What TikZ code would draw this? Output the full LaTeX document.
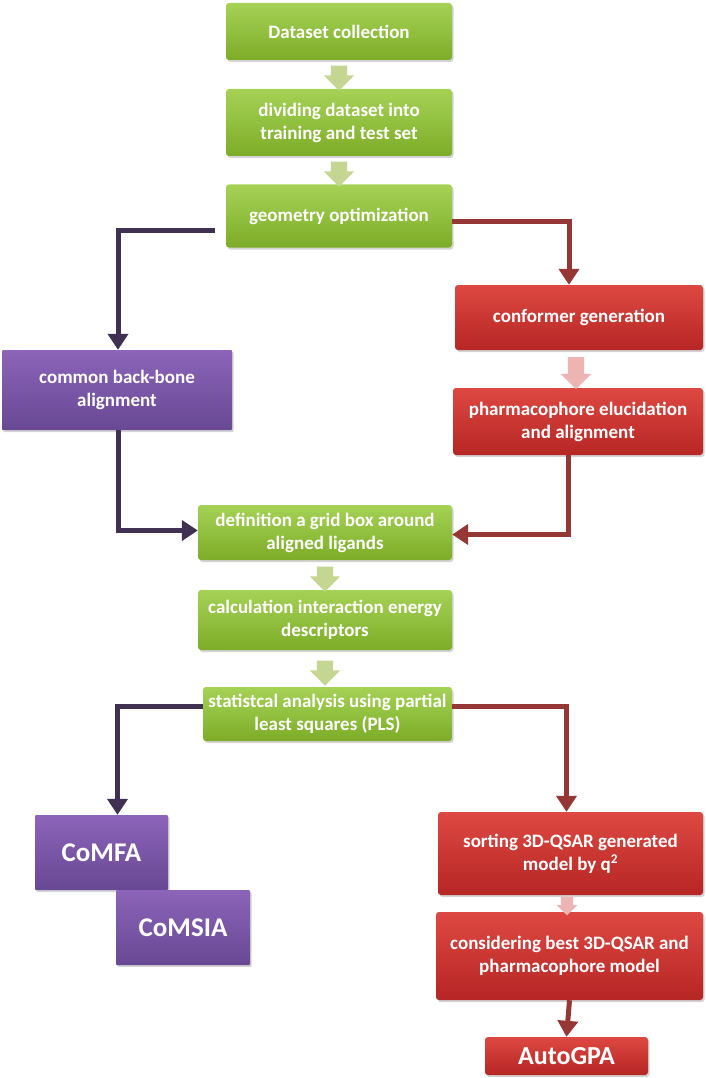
\documentclass[tikz,border=0pt]{standalone}
\usepackage{fontspec}
\setmainfont{Carlito}
\usetikzlibrary{arrows.meta,shapes.arrows,shadows}
\definecolor{grntop}{RGB}{165,210,85}
\definecolor{grnbot}{RGB}{125,172,40}
\definecolor{redtop}{RGB}{222,72,66}
\definecolor{redbot}{RGB}{182,38,36}
\definecolor{purtop}{RGB}{140,100,185}
\definecolor{purbot}{RGB}{104,72,148}
\definecolor{purline}{RGB}{64,49,82}
\definecolor{redline}{RGB}{149,55,53}
\definecolor{palegrn}{RGB}{196,214,146}
\definecolor{palered}{RGB}{236,180,178}
\begin{document}
\begin{tikzpicture}
[x=1pt, y=-1pt,
box/.style={rounded corners=3pt, text=white, align=center, inner sep=2pt,
  font=\bfseries\fontsize{19}{23}\selectfont,
  drop shadow={opacity=.35, shadow xshift=1.5pt, shadow yshift=-2pt}},
grnbox/.style={box, top color=grntop, bottom color=grnbot},
redbox/.style={box, top color=redtop, bottom color=redbot},
purbox/.style={box, top color=purtop, bottom color=purbot, rounded corners=1pt},
big/.style={font=\bfseries\fontsize{27}{31}\selectfont},
blockarrow/.style={single arrow, shape border rotate=270, draw=none, inner sep=8pt,
  minimum width=30pt, minimum height=25pt, single arrow head extend=7pt},
purarrow/.style={draw=purline, line width=5pt, -{Triangle[width=20pt,length=16pt]}},
redarrow/.style={draw=redline, line width=5pt, -{Triangle[width=20pt,length=16pt]}}]
\useasboundingbox (0,0) rectangle (705,1078);
% main column
\node[grnbox, minimum width=226pt, minimum height=57pt] (data) at (339,31.5) {Dataset collection};
\node[grnbox, minimum width=226pt, minimum height=67pt] (divide) at (339,122.5) {dividing dataset into\\training and test set};
\node[grnbox, minimum width=226pt, minimum height=63pt] (geom) at (339,216) {geometry optimization};
\node[redbox, minimum width=248pt, minimum height=65pt] (conf) at (579,317.5) {conformer generation};
\node[redbox, minimum width=250pt, minimum height=67pt] (pharm) at (578,421.5) {pharmacophore elucidation\\and alignment};
\node[purbox, minimum width=230pt, minimum height=80pt] (bone) at (117,390) {common back-bone\\alignment};
\node[grnbox, minimum width=254pt, minimum height=55pt] (grid) at (325,532.5) {definition a grid box around\\aligned ligands};
\node[grnbox, minimum width=254pt, minimum height=60pt] (calc) at (325,620) {calculation interaction energy\\descriptors};
\node[grnbox, minimum width=249pt, minimum height=54pt] (stat) at (327.5,714) {statistcal analysis using partial\\least squares (PLS)};
% results
\node[purbox, big, minimum width=133pt, minimum height=75pt] (comfa) at (101.5,852.5) {CoMFA};
\node[purbox, big, minimum width=134pt, minimum height=75pt] (comsia) at (183,927.5) {CoMSIA};
\node[redbox, minimum width=265pt, minimum height=83pt] (sort) at (570.5,853.5) {sorting 3D-QSAR generated\\model by q\textsuperscript{2}};
\node[redbox, minimum width=267pt, minimum height=88pt] (best) at (569.5,956) {considering best 3D-QSAR and\\pharmacophore model};
\node[redbox, font=\bfseries\fontsize{26}{30}\selectfont, minimum width=163pt, minimum height=38pt] (gpa) at (566.5,1056) {AutoGPA};
% small arrows
\node[blockarrow, fill=palegrn] (s1) at (339,74) {};
\node[blockarrow, fill=palegrn] (s2) at (339,170) {};
\node[blockarrow, fill=palered, minimum height=32pt] (s3) at (576,369) {};
\node[blockarrow, fill=palegrn] (s4) at (325,575) {};
\node[blockarrow, fill=palegrn] (s5) at (325,669) {};
\node[blockarrow, fill=palered, inner sep=6pt, minimum width=20pt, minimum height=14pt, single arrow head extend=4pt] (s6) at (567,903) {};
% connectors
\draw[purarrow] ([shift={(-11pt,-14pt)}]geom.west) -| ([xshift=1pt]bone.north);
\draw[redarrow] ([yshift=-5pt]geom.east) -| ([xshift=-10pt]conf.north);
\draw[purarrow] ([xshift=1pt]bone.south) |- ([yshift=2pt]grid.west);
\draw[redarrow] ([xshift=-10pt]pharm.south) |- ([yshift=-2pt]grid.east);
\draw[purarrow] ([yshift=8pt]stat.west) -| ([xshift=16pt]comfa.north);
\draw[redarrow] ([yshift=8pt]stat.east) -| ([xshift=-4pt]sort.north);
\draw[redarrow] (best.south) -- (gpa.north);
\end{tikzpicture}
\end{document}
